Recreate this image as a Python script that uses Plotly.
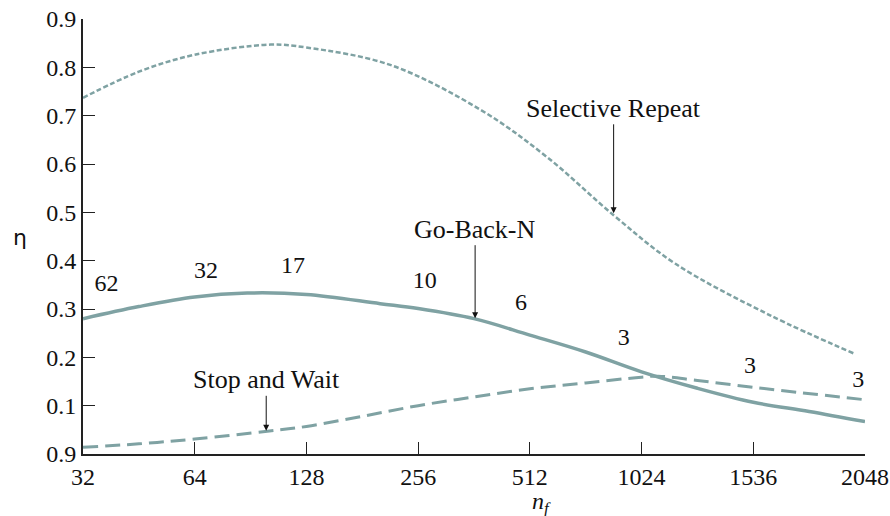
import plotly.graph_objects as go

# x positions are on the evenly spaced n_f axis (0 -> 32 ... 7 -> 2048)
tick_labels = ["32", "64", "128", "256", "512", "1024", "1536", "2048"]
y_tick_vals = [0, 0.1, 0.2, 0.3, 0.4, 0.5, 0.6, 0.7, 0.8, 0.9]
y_tick_text = ["0.9", "0.1", "0.2", "0.3", "0.4", "0.5", "0.6", "0.7", "0.8", "0.9"]

sr_x = [0, 0.5, 1, 1.68, 2, 2.75, 3.56, 4.15, 4.75, 5.3, 6.15, 6.9]
sr_y = [0.737, 0.791, 0.826, 0.847, 0.841, 0.805, 0.712, 0.615, 0.494, 0.394, 0.287, 0.208]

gbn_x = [0, 0.5, 1, 1.47, 2, 2.66, 3, 3.5, 4, 4.5, 5, 5.5, 6, 6.5, 7]
gbn_y = [0.280, 0.305, 0.325, 0.333, 0.330, 0.311, 0.301, 0.280, 0.246, 0.211,
         0.170, 0.136, 0.107, 0.088, 0.067]

sw_x = [0, 0.5, 1, 1.65, 2, 2.5, 3, 3.5, 4, 4.5, 5, 5.15, 5.5, 6, 6.97]
sw_y = [0.014, 0.021, 0.031, 0.047, 0.057, 0.078, 0.100, 0.118, 0.135, 0.147,
        0.159, 0.161, 0.152, 0.138, 0.113]

# window size labels along the Go-Back-N curve
win_x = [0.21, 1.10, 1.88, 3.06, 3.92, 4.84, 5.97, 6.94]
win_y = [0.349, 0.376, 0.387, 0.356, 0.310, 0.237, 0.181, 0.152]
win_text = ["62", "32", "17", "10", "6", "3", "3", "3"]

LINE = "#7fa2a3"
FONT = "Liberation Serif"
INK = "#111"

fig = go.Figure()

fig.add_trace(go.Scatter(x=sr_x, y=sr_y, mode="lines", name="Selective Repeat",
                         line=dict(color=LINE, width=2.5, dash="5px,2.5px",
                                   shape="spline", smoothing=1.0)))
fig.add_trace(go.Scatter(x=gbn_x, y=gbn_y, mode="lines", name="Go-Back-N",
                         line=dict(color=LINE, width=3.5, shape="spline", smoothing=1.0)))
fig.add_trace(go.Scatter(x=sw_x, y=sw_y, mode="lines", name="Stop and Wait",
                         line=dict(color=LINE, width=3, dash="15px,7px",
                                   shape="spline", smoothing=1.0)))

fig.add_trace(go.Scatter(x=win_x, y=win_y, mode="text", text=win_text,
                         textfont=dict(family=FONT, size=24, color=INK),
                         hoverinfo="skip"))

# labels with arrows
arrows = [
    ("Go-Back-N", 3.51, 0.281, -89),
    ("Selective Repeat", 4.75, 0.498, -105),
    ("Stop and Wait", 1.64, 0.048, -51),
]
for text, x, y, ay in arrows:
    fig.add_annotation(x=x, y=y, text=text, showarrow=True, ax=0, ay=ay,
                       arrowhead=2, arrowsize=1.2, arrowwidth=1, arrowcolor=INK,
                       font=dict(family=FONT, size=26, color=INK))

# axis titles
fig.add_annotation(x=-0.0806, y=0.498, xref="paper", yref="paper", text="η",
                   xanchor="center", yanchor="middle", showarrow=False,
                   font=dict(family="DejaVu Sans", size=22, color=INK))
fig.add_annotation(x=0.586, y=-0.113, xref="paper", yref="paper",
                   text="<i>n<sub>f</sub></i>", xanchor="center", yanchor="middle",
                   showarrow=False, font=dict(family=FONT, size=24, color=INK))

fig.update_layout(
    width=890, height=516,
    margin=dict(l=83, r=25, t=19, b=62),
    paper_bgcolor="white", plot_bgcolor="white",
    showlegend=False,
    font=dict(family=FONT, size=24, color=INK),
)
fig.update_xaxes(
    range=[0, 7], tickvals=list(range(8)), ticktext=tick_labels,
    showgrid=False, zeroline=False, showline=True, linewidth=2, linecolor="#222",
    ticks="inside", ticklen=12, tickwidth=1, tickcolor="#222",
    tickfont=dict(family=FONT, size=24, color=INK), automargin=False,
    ticklabeloverflow="allow",
)
fig.update_yaxes(
    range=[0, 0.9], tickvals=y_tick_vals, ticktext=y_tick_text,
    showgrid=False, zeroline=False, showline=True, linewidth=2, linecolor="#222",
    ticks="inside", ticklen=12, tickwidth=1, tickcolor="#222",
    tickfont=dict(family=FONT, size=24, color=INK), automargin=False,
    ticklabeloverflow="allow",
)

# drop the default page margin so the figure fills the window
fig.write_html("out.html", config={"displayModeBar": False},
               post_script="document.body.style.margin='0';document.body.style.overflow='hidden';")
